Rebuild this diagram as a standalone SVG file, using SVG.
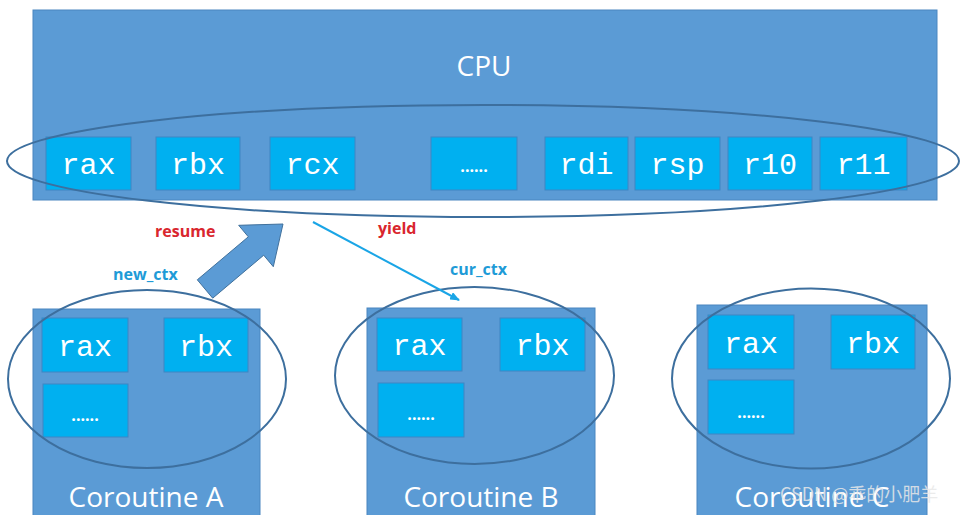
<svg xmlns="http://www.w3.org/2000/svg" width="967" height="515" viewBox="0 0 967 515">
<style>
.box{fill:#5b9bd5;stroke:#4a86c0;stroke-width:1}
.reg{fill:#00b0f0;stroke:#3f86c4;stroke-width:1}
.rt{font-family:"Liberation Mono","DejaVu Sans Mono",monospace;font-size:30px;fill:#ffffff;text-anchor:middle}
.dots{font-family:"Open Sans","Noto Sans",sans-serif;font-size:16px;font-weight:bold;fill:#ffffff;text-anchor:middle}
.title{font-family:"Open Sans","Noto Sans",sans-serif;font-size:28px;fill:#ffffff;text-anchor:middle}
.ell{fill:none;stroke:#3d6f9e;stroke-width:2}
.red{font-family:"Open Sans","Liberation Sans",sans-serif;font-size:16px;font-weight:bold;fill:#d9262e}
.blue{font-family:"Open Sans","Liberation Sans",sans-serif;font-size:16px;font-weight:bold;fill:#1e9bd7}
</style>
<defs>
<marker id="ah" markerWidth="10" markerHeight="8" refX="9" refY="4" orient="auto" markerUnits="userSpaceOnUse">
<path d="M0,0 L10,4 L0,8 z" fill="#1aa5e6"/>
</marker>
</defs>
<rect width="967" height="515" fill="#ffffff"/>
<g id="cpu">
<rect class="box" x="33" y="10" width="904" height="190"/>
<text class="title" x="484" y="76" font-size="31">CPU</text>
<rect class="reg" x="46" y="137" width="85" height="53"/><text class="rt" x="88.5" y="174">rax</text>
<rect class="reg" x="156" y="137" width="84" height="53"/><text class="rt" x="198" y="174">rbx</text>
<rect class="reg" x="270" y="137" width="85" height="53"/><text class="rt" x="312.5" y="174">rcx</text>
<rect class="reg" x="431" y="137" width="86" height="53"/><text class="dots" x="474" y="172">......</text>
<rect class="reg" x="545" y="137" width="83" height="53"/><text class="rt" x="586.5" y="174">rdi</text>
<rect class="reg" x="635" y="137" width="85" height="53"/><text class="rt" x="677.5" y="174">rsp</text>
<rect class="reg" x="728" y="137" width="84" height="53"/><text class="rt" x="770" y="174">r10</text>
<rect class="reg" x="820" y="137" width="87" height="53"/><text class="rt" x="863.5" y="174">r11</text>
<ellipse class="ell" cx="483" cy="161" rx="476" ry="56" stroke-width="3"/>
</g>
<g id="coroutineA">
<rect class="box" x="33" y="309" width="227" height="215"/>
<rect class="reg" x="42" y="318" width="86" height="54"/><text class="rt" x="85" y="356">rax</text>
<rect class="reg" x="164" y="318" width="84" height="54"/><text class="rt" x="206" y="356">rbx</text>
<rect class="reg" x="43" y="384" width="85" height="53"/><text class="dots" x="85" y="421">......</text>
<ellipse class="ell" cx="147" cy="379" rx="139" ry="89"/>
<text class="title" x="146" y="507">Coroutine A</text>
</g>
<g id="coroutineB">
<rect class="box" x="367" y="308" width="228" height="215"/>
<rect class="reg" x="377" y="318" width="85" height="53"/><text class="rt" x="419.5" y="355">rax</text>
<rect class="reg" x="500" y="318" width="85" height="53"/><text class="rt" x="542.5" y="355">rbx</text>
<rect class="reg" x="378" y="383" width="86" height="54"/><text class="dots" x="421" y="420">......</text>
<ellipse class="ell" cx="474.5" cy="375.5" rx="139.5" ry="88.5"/>
<text class="title" x="481" y="507">Coroutine B</text>
</g>
<g id="coroutineC">
<rect class="box" x="697" y="305" width="230" height="215"/>
<rect class="reg" x="708" y="315" width="86" height="54"/><text class="rt" x="751" y="353">rax</text>
<rect class="reg" x="831" y="315" width="84" height="54"/><text class="rt" x="873" y="353">rbx</text>
<rect class="reg" x="708" y="380" width="86" height="54"/><text class="dots" x="751" y="418">......</text>
<ellipse class="ell" cx="811" cy="378.5" rx="139" ry="90"/>
<text class="title" x="812" y="507">Coroutine C</text>
</g>
<g id="connectors">
<polygon points="212.7,298.2 263.7,255.2 273.3,266.7 283,224 238.7,225.3 248.3,236.8 197.3,279.8" fill="#5b9bd5" stroke="#41719c" stroke-width="1"/>
<line x1="313" y1="222" x2="459" y2="300" stroke="#1aa5e6" stroke-width="2" marker-end="url(#ah)"/>
</g>
<g id="labels">
<text class="red" x="155" y="237">resume</text>
<text class="red" x="378" y="234">yield</text>
<text class="blue" x="113" y="280">new_ctx</text>
<text class="blue" x="450" y="275">cur_ctx</text>
</g>
<text x="780" y="501" font-family="'Noto Sans CJK SC','Noto Sans',sans-serif" font-size="18" fill="#e8e8e8" fill-opacity="0.85">CSDN @乖的小肥羊</text>
</svg>
